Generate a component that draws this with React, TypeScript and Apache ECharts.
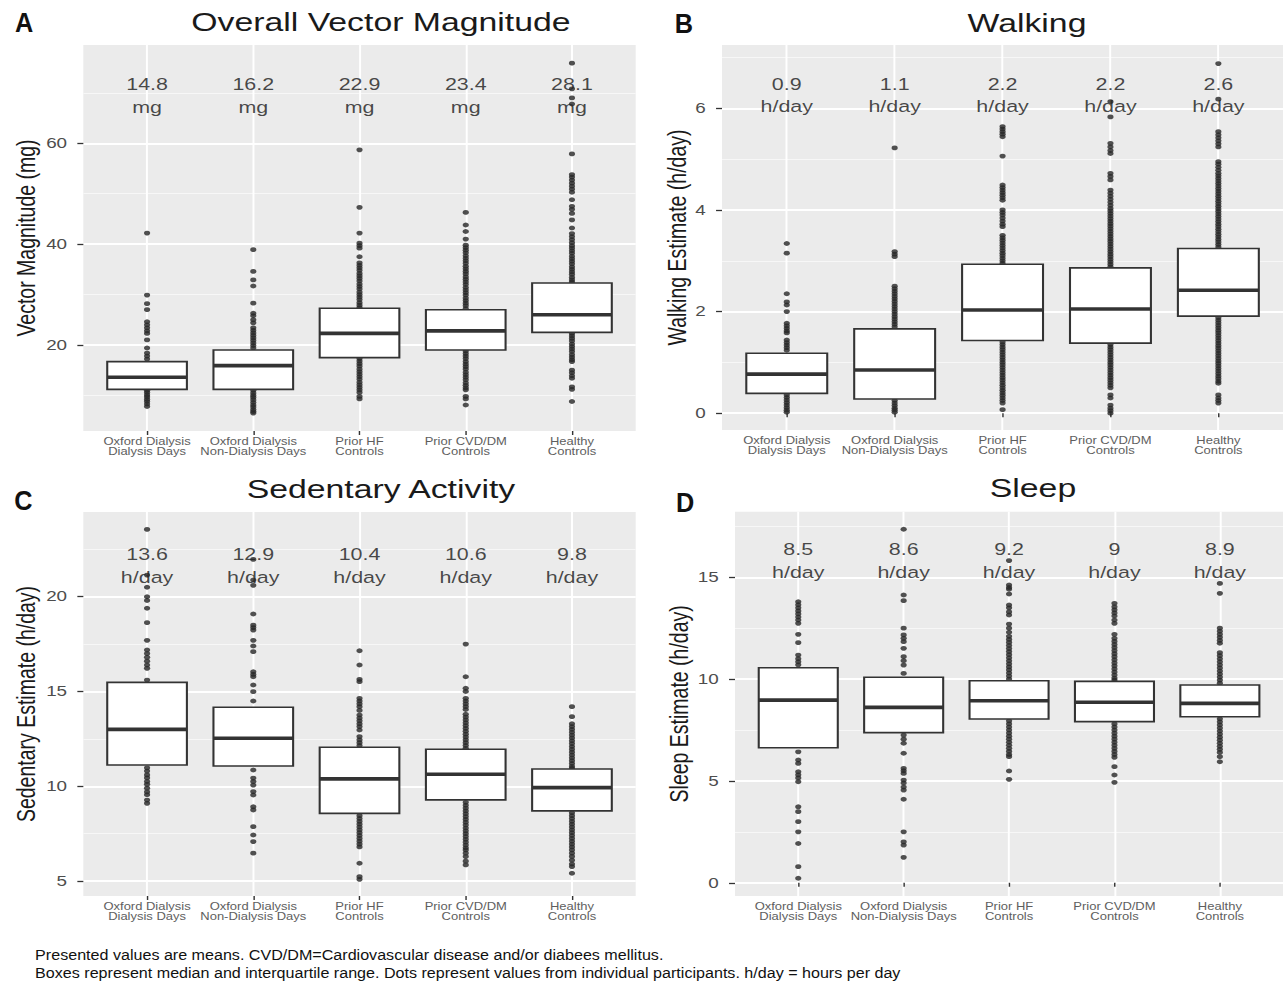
import React, { useEffect, useRef } from "react";
import * as echarts from "echarts";

// ---------- shared categories ----------
const categories = [
  "Oxford Dialysis\nDialysis Days",
  "Oxford Dialysis\nNon-Dialysis Days",
  "Prior HF\nControls",
  "Prior CVD/DM\nControls",
  "Healthy\nControls",
];

// ---------- Panel A: Overall Vector Magnitude (mg) ----------
// boxes: [Q1, median, Q3]
const vmBoxes = [
  [11.2, 13.6, 16.7],
  [11.2, 15.9, 19.0],
  [17.5, 22.3, 27.3],
  [19.0, 22.8, 27.0],
  [22.5, 26.0, 32.3],
];
const vmMeans = ["14.8", "16.2", "22.9", "23.4", "28.1"];
const vmDots = [
  [42.2, 29.9, 28.2, 27.0, 24.6, 24.0, 23.4, 22.8, 22.3, 21.0, 19.4, 18.4, 17.8, 17.2,
    11.0, 10.6, 10.1, 9.7, 9.2, 8.8, 8.3, 7.8],
  [38.9, 34.6, 32.9, 31.7, 28.3, 26.3, 25.8, 25.0, 24.4, 23.4, 22.9, 22.4, 21.9, 21.4, 20.9, 20.4, 19.9, 19.4,
    11.0, 10.5, 10.0, 9.6, 9.1, 8.6, 8.1, 7.7, 7.2, 6.8, 6.5],
  [58.7, 47.3, 42.2, 40.2, 39.7, 39.2, 37.5, 36.3, 35.8, 35.3, 34.8, 34.2, 33.7, 33.2, 32.7, 32.1, 31.6, 31.1, 30.5,
    30.0, 29.5, 29.0, 28.4, 27.9, 27.4,
    17.3, 16.8, 16.3, 15.8, 15.2, 14.7, 14.2, 13.7, 13.2, 12.6, 12.1, 11.6, 11.1, 10.6, 9.8, 9.3],
  [46.3, 43.8, 42.5, 41.0, 39.8, 39.3, 38.8, 38.3, 37.7, 37.2, 36.7, 36.2, 35.6, 35.1, 34.6, 34.1, 33.5, 33.0, 32.5,
    32.0, 31.4, 30.9, 30.4, 29.9, 29.3, 28.8, 28.3, 27.8, 27.2,
    18.8, 18.3, 17.8, 17.3, 16.7, 16.2, 15.7, 15.2, 14.6, 14.1, 13.6, 13.1, 12.5, 12.0, 11.5, 11.1, 9.8, 9.3, 8.1],
  [75.9, 70.8, 69.0, 67.8, 57.9, 53.8, 53.3, 52.7, 52.1, 51.5, 50.9, 50.3, 48.8, 47.5, 46.9, 46.1, 44.8, 43.2, 42.1,
    41.5, 40.9, 40.3, 39.7, 39.2, 38.7, 38.2, 37.6, 37.1, 36.6, 36.1, 35.5, 35.0, 34.5, 34.0, 33.4, 32.9, 32.5,
    22.3, 21.8, 21.3, 20.8, 20.2, 19.7, 19.2, 18.7, 18.1, 17.6, 17.1, 16.7, 15.0, 14.5, 13.9, 13.4, 11.7, 11.2, 8.8],
];
const vmMajorTicks = [20, 40, 60];
const vmMinorTicks = [10, 30, 50, 70];
const vmLabelY = 69.4;

// ---------- Panel B: Walking (h/day) ----------
const walkBoxes = [
  [0.39, 0.77, 1.18],
  [0.28, 0.85, 1.66],
  [1.43, 2.03, 2.93],
  [1.38, 2.05, 2.86],
  [1.91, 2.42, 3.24],
];
const walkMeans = ["0.9", "1.1", "2.2", "2.2", "2.6"];
const walkDots = [
  [3.34, 3.15, 2.35, 2.19, 2.13, 2.0, 1.77, 1.72, 1.67, 1.62, 1.58, 1.44, 1.39, 1.34, 1.29, 1.24,
    0.36, 0.31, 0.26, 0.21, 0.16, 0.11, 0.06, 0.02],
  [5.22, 3.18, 3.13, 3.08, 2.5, 2.45, 2.4, 2.35, 2.3, 2.25, 2.2, 2.15, 2.1, 2.05, 2.0, 1.95, 1.9, 1.85, 1.8, 1.75, 1.7,
    0.25, 0.2, 0.15, 0.1, 0.06, 0.02],
  [5.64, 5.59, 5.54, 5.49, 5.44, 5.06, 4.49, 4.44, 4.39, 4.34, 4.29, 4.24, 4.19, 4.0, 3.95, 3.9, 3.84, 3.78, 3.72,
    3.67, 3.5, 3.45, 3.4, 3.35, 3.3, 3.25, 3.2, 3.15, 3.1, 3.05, 3.0, 2.95,
    1.4, 1.35, 1.3, 1.25, 1.2, 1.15, 1.1, 1.05, 1.0, 0.95, 0.9, 0.85, 0.8, 0.75, 0.7, 0.65, 0.6, 0.55, 0.5, 0.45,
    0.4, 0.35, 0.3, 0.25, 0.2, 0.07],
  [6.13, 5.83, 5.31, 5.24, 5.17, 5.11, 4.72, 4.66, 4.59, 4.39, 4.33, 4.27, 4.21, 4.15, 4.09, 4.03, 3.98, 3.93, 3.88,
    3.83, 3.78, 3.73, 3.68, 3.63, 3.58, 3.53, 3.48, 3.43, 3.38, 3.33, 3.28, 3.23, 3.18, 3.13, 3.08, 3.03, 2.98, 2.93,
    2.88,
    1.35, 1.3, 1.25, 1.2, 1.15, 1.1, 1.05, 1.0, 0.95, 0.9, 0.85, 0.8, 0.75, 0.7, 0.65, 0.6, 0.55, 0.5, 0.36, 0.3,
    0.16, 0.1, 0.05, 0.0],
  [6.88, 6.18, 5.54, 5.48, 5.42, 5.36, 5.3, 5.24, 4.95, 4.9, 4.84, 4.78, 4.72, 4.67, 4.62, 4.57, 4.52, 4.47, 4.42,
    4.37, 4.32, 4.27, 4.22, 4.17, 4.12, 4.07, 4.02, 3.97, 3.92, 3.87, 3.82, 3.77, 3.72, 3.67, 3.62, 3.57, 3.52, 3.47,
    3.42, 3.37, 3.32, 3.27,
    1.88, 1.83, 1.78, 1.73, 1.68, 1.63, 1.58, 1.53, 1.48, 1.43, 1.38, 1.33, 1.28, 1.23, 1.18, 1.13, 1.08, 1.03, 0.98,
    0.93, 0.88, 0.83, 0.78, 0.73, 0.68, 0.63, 0.59, 0.36, 0.3, 0.25, 0.2],
];
const walkMajorTicks = [0, 2, 4, 6];
const walkMinorTicks = [1, 3, 5, 7];
const walkLabelY = 6.25;

// ---------- Panel C: Sedentary Activity (h/day) ----------
const sedBoxes = [
  [11.12, 13.0, 15.48],
  [11.07, 12.53, 14.17],
  [8.57, 10.39, 12.06],
  [9.28, 10.63, 11.95],
  [8.7, 9.93, 10.91],
];
const sedMeans = ["13.6", "12.9", "10.4", "10.6", "9.8"];
const sedDots = [
  [23.55, 21.14, 20.5, 20.0, 19.8, 19.39, 18.63, 17.7, 17.19, 17.0, 16.8, 16.6, 16.4, 16.22, 15.6,
    10.97, 10.8, 10.6, 10.44, 10.25, 10.1, 9.9, 9.7, 9.55, 9.27, 9.1],
  [21.97, 20.88, 20.6, 19.09, 18.5, 18.37, 18.24, 17.7, 17.4, 17.1, 16.04, 15.9, 15.78, 15.34, 14.99, 14.5,
    10.86, 10.43, 10.25, 10.06, 9.72, 9.54, 8.92, 8.75, 7.87, 7.43, 7.08, 6.47],
  [17.15, 16.4, 15.64, 15.52, 14.64, 14.5, 14.35, 14.2, 14.0, 13.76, 13.6, 13.45, 13.3, 13.15, 12.97, 12.62, 12.45,
    12.3, 12.15,
    8.45, 8.3, 8.15, 8.0, 7.85, 7.7, 7.55, 7.4, 7.25, 7.1, 6.95, 6.8, 5.94, 5.23, 5.09],
  [17.5, 15.78, 15.17, 15.0, 14.64, 14.5, 14.35, 14.2, 14.05, 13.8, 13.65, 13.5, 13.35, 13.2, 13.05, 12.9, 12.75,
    12.6, 12.45, 12.3, 12.15, 12.0,
    9.15, 9.0, 8.85, 8.7, 8.55, 8.4, 8.25, 8.1, 7.95, 7.8, 7.65, 7.5, 7.35, 7.2, 7.05, 6.9, 6.75, 6.64, 6.47, 6.29,
    6.05, 5.85],
  [14.2, 13.67, 13.3, 13.15, 13.0, 12.85, 12.7, 12.55, 12.4, 12.25, 12.1, 11.95, 11.8, 11.65, 11.5, 11.35, 11.2,
    11.05, 10.95,
    8.6, 8.45, 8.3, 8.15, 8.0, 7.85, 7.7, 7.55, 7.4, 7.25, 7.1, 6.95, 6.8, 6.64, 6.47, 6.3, 6.1, 5.9, 5.76, 5.41],
];
const sedMajorTicks = [5, 10, 15, 20];
const sedMinorTicks = [7.5, 12.5, 17.5, 22.5];
const sedLabelY = 21.63;

// ---------- Panel D: Sleep (h/day) ----------
const sleepBoxes = [
  [6.63, 8.97, 10.56],
  [7.37, 8.61, 10.09],
  [8.04, 8.94, 9.92],
  [7.91, 8.86, 9.89],
  [8.15, 8.81, 9.71],
];
const sleepMeans = ["8.5", "8.6", "9.2", "9", "8.9"];
const sleepDots = [
  [13.8, 13.65, 13.5, 13.35, 13.2, 13.05, 12.9, 12.74, 12.2, 11.79, 11.18, 11.0, 10.85, 10.7,
    6.43, 6.03, 5.86, 5.45, 5.3, 5.15, 4.96, 3.73, 3.49, 3.0, 2.5, 1.93, 0.79, 0.22],
  [17.36, 14.13, 13.85, 12.5, 12.17, 12.0, 11.84, 11.51, 11.1, 10.9, 10.69, 10.28,
    7.25, 7.05, 6.85, 6.36, 5.62, 5.5, 5.37, 5.04, 4.9, 4.7, 4.55, 4.1, 2.5, 2.01, 1.85, 1.25],
  [15.82, 14.62, 14.5, 14.41, 14.18, 13.64, 13.5, 13.3, 13.15, 12.7, 12.5, 12.3, 12.1, 11.95, 11.8, 11.65, 11.5,
    11.35, 11.2, 11.05, 10.9, 10.75, 10.6, 10.45, 10.3, 10.15, 10.0,
    7.95, 7.8, 7.65, 7.5, 7.35, 7.2, 7.05, 6.9, 6.75, 6.6, 6.45, 6.3, 6.19, 5.49, 5.08],
  [13.72, 13.55, 13.4, 13.25, 13.1, 12.9, 12.74, 12.2, 12.0, 11.85, 11.7, 11.55, 11.4, 11.25, 11.1, 10.95, 10.8,
    10.65, 10.5, 10.35, 10.2, 10.05, 9.95,
    7.8, 7.65, 7.5, 7.35, 7.2, 7.05, 6.9, 6.75, 6.6, 6.45, 6.3, 6.16, 5.7, 5.29, 4.93],
  [14.7, 14.21, 12.5, 12.35, 12.2, 12.05, 11.9, 11.76, 11.3, 11.15, 11.0, 10.85, 10.7, 10.55, 10.4, 10.25, 10.1,
    9.95, 9.8,
    8.05, 7.9, 7.75, 7.6, 7.45, 7.3, 7.15, 7.0, 6.85, 6.7, 6.55, 6.4, 6.19, 5.94],
];
const sleepMajorTicks = [0, 5, 10, 15];
const sleepMinorTicks = [2.5, 7.5, 12.5, 17.5];
const sleepLabelY = 15.8;

const footnote =
  "Presented values are means. CVD/DM=Cardiovascular disease and/or diabees mellitus.\n" +
  "Boxes represent median and interquartile range. Dots represent values from individual participants. h/day = hours per day";

// ---------- layout (unstretched coordinates; the whole chart is stretched horizontally) ----------
const STRETCH = 1.3;
const FONT = "'Liberation Sans', Arial, Helvetica, sans-serif";

const panels = [
  {
    letter: "A", title: "Overall Vector Magnitude", yName: "Vector Magnitude (mg)", unit: "mg",
    boxes: vmBoxes, means: vmMeans, dots: vmDots, major: vmMajorTicks, minor: vmMinorTicks, labelY: vmLabelY,
    ymin: 2.94, ymax: 79.5,
    grid: { left: 64.1, top: 45, width: 424.9, height: 386 }, nameGap: 34,
    titlePos: [293, 22], letterPos: [18.5, 23],
  },
  {
    letter: "B", title: "Walking", yName: "Walking Estimate (h/day)", unit: "h/day",
    boxes: walkBoxes, means: walkMeans, dots: walkDots, major: walkMajorTicks, minor: walkMinorTicks, labelY: walkLabelY,
    ymin: -0.33, ymax: 7.245,
    grid: { left: 555.4, top: 45, width: 434.6, height: 385 }, nameGap: 22,
    titlePos: [790, 23], letterPos: [526, 24],
  },
  {
    letter: "C", title: "Sedentary Activity", yName: "Sedentary Estimate (h/day)", unit: "h/day",
    boxes: sedBoxes, means: sedMeans, dots: sedDots, major: sedMajorTicks, minor: sedMinorTicks, labelY: sedLabelY,
    ymin: 4.21, ymax: 24.47,
    grid: { left: 64.1, top: 512, width: 424.9, height: 384 }, nameGap: 34,
    titlePos: [293, 489], letterPos: [18, 501],
  },
  {
    letter: "D", title: "Sleep", yName: "Sleep Estimate (h/day)", unit: "h/day",
    boxes: sleepBoxes, means: sleepMeans, dots: sleepDots, major: sleepMajorTicks, minor: sleepMinorTicks, labelY: sleepLabelY,
    ymin: -0.65, ymax: 18.22,
    grid: { left: 565.4, top: 511.7, width: 423.8, height: 384.3 }, nameGap: 32,
    titlePos: [794.6, 488], letterPos: [527, 503],
  },
];

function buildOption() {
  const grids: any[] = [];
  const xAxes: any[] = [];
  const yAxes: any[] = [];
  const series: any[] = [];
  const graphics: any[] = [];
  const catValues = categories.map((_, i) => i + 1);

  panels.forEach((p, i) => {
    grids.push({
      ...p.grid,
      show: true,
      backgroundColor: "#ebebeb",
      borderWidth: 0,
      containLabel: false,
    });
    xAxes.push({
      type: "value",
      gridIndex: i,
      min: 0.4,
      max: 5.6,
      axisLine: { show: false },
      axisTick: { show: true, customValues: catValues, length: 4, lineStyle: { color: "#333", width: 1.1 } },
      axisLabel: {
        show: true,
        customValues: catValues,
        formatter: (v: number) => categories[Math.round(v) - 1] ?? "",
        fontFamily: FONT,
        fontSize: 10,
        lineHeight: 10,
        color: "#5e5e5e",
        margin: 6,
      },
      splitLine: { show: true, lineStyle: { color: "#ffffff", width: 1.5 } },
    });
    yAxes.push({
      type: "value",
      gridIndex: i,
      min: p.ymin,
      max: p.ymax,
      name: p.yName,
      nameLocation: "middle",
      nameRotate: 90,
      nameGap: p.nameGap,
      nameTextStyle: { fontFamily: FONT, fontSize: 19.5, color: "#1a1a1a" },
      axisLine: { show: false },
      axisTick: { show: true, customValues: p.major, length: 4.6, lineStyle: { color: "#333", width: 1.3 } },
      axisLabel: {
        show: true,
        customValues: p.major,
        fontFamily: FONT,
        fontSize: 14.5,
        color: "#4d4d4d",
        margin: 12.5,
      },
      splitLine: { show: true, lineStyle: { color: "#ffffff", width: 2 } },
    });
    yAxes.push({
      type: "value",
      gridIndex: i,
      position: "left",
      min: p.ymin,
      max: p.ymax,
      axisLine: { show: false },
      axisTick: { show: false, customValues: p.minor },
      axisLabel: { show: false, customValues: p.minor },
      splitLine: { show: true, lineStyle: { color: "#f7f7f7", width: 1 } },
    });

    const dotData: number[][] = [];
    p.dots.forEach((vals, ci) => vals.forEach((v) => dotData.push([ci + 1, v])));

    series.push({
      type: "scatter",
      xAxisIndex: i,
      yAxisIndex: 2 * i,
      silent: true,
      symbol: "circle",
      symbolSize: 4.8,
      itemStyle: { color: "#262626" },
      data: dotData,
      z: 3,
    });

    series.push({
      type: "custom",
      xAxisIndex: i,
      yAxisIndex: 2 * i,
      silent: true,
      z: 4,
      data: p.boxes.map((b, ci) => [ci + 1, b[0], b[1], b[2]]),
      renderItem: (_params: any, api: any) => {
        const x = api.value(0);
        const q1 = api.value(1);
        const med = api.value(2);
        const q3 = api.value(3);
        const half = 0.375;
        const tl = api.coord([x - half, q3]);
        const br = api.coord([x + half, q1]);
        const ml = api.coord([x - half, med]);
        const mr = api.coord([x + half, med]);
        return {
          type: "group",
          children: [
            {
              type: "rect",
              shape: { x: tl[0], y: tl[1], width: br[0] - tl[0], height: br[1] - tl[1] },
              style: { fill: "#ffffff", stroke: "#333333", lineWidth: 1.6 },
            },
            {
              type: "line",
              shape: { x1: ml[0], y1: ml[1], x2: mr[0], y2: mr[1] },
              style: { stroke: "#333333", lineWidth: 3.6 },
            },
          ],
        };
      },
    });

    series.push({
      type: "scatter",
      xAxisIndex: i,
      yAxisIndex: 2 * i,
      silent: true,
      symbol: "circle",
      symbolSize: 1,
      itemStyle: { color: "rgba(0,0,0,0)" },
      z: 2,
      data: p.means.map((m, ci) => [ci + 1, p.labelY, m]),
      label: {
        show: true,
        position: "inside",
        formatter: (d: any) => `${d.data[2]}\n${p.unit}`,
        fontFamily: FONT,
        fontSize: 16.5,
        lineHeight: 22.5,
        color: "#1a1a1a",
        align: "center",
        verticalAlign: "middle",
      },
    });

    graphics.push({
      type: "text",
      x: p.titlePos[0],
      y: p.titlePos[1],
      silent: true,
      style: {
        text: p.title,
        font: `26px ${FONT}`,
        fill: "#1a1a1a",
        textAlign: "center",
        align: "center",
        textVerticalAlign: "middle",
        verticalAlign: "middle",
      },
    });
    graphics.push({
      type: "text",
      x: p.letterPos[0],
      y: p.letterPos[1],
      scaleX: 0.72,
      silent: true,
      style: {
        text: p.letter,
        font: `bold 27px ${FONT}`,
        fill: "#111111",
        textAlign: "center",
        align: "center",
        textVerticalAlign: "middle",
        verticalAlign: "middle",
      },
    });
  });

  graphics.push({
    type: "text",
    x: 27,
    y: 946,
    scaleX: 0.826,
    silent: true,
    style: {
      text: footnote,
      font: `15px ${FONT}`,
      lineHeight: 18,
      fill: "#111111",
      textAlign: "left",
      align: "left",
      textVerticalAlign: "top",
      verticalAlign: "top",
    },
  });

  return {
    animation: false,
    backgroundColor: "#ffffff",
    grid: grids,
    xAxis: xAxes,
    yAxis: yAxes,
    series,
    graphic: graphics,
  };
}

export default function App() {
  const ref = useRef<HTMLDivElement>(null);
  useEffect(() => {
    if (!ref.current) return;
    const chart = echarts.init(ref.current, null, { renderer: "svg" });
    chart.setOption(buildOption() as any);
    return () => chart.dispose();
  }, []);
  const baseWidth = Math.round(1283 / STRETCH);
  return (
    <div style={{ position: "absolute", left: 0, top: 0, width: 1283, height: 982, overflow: "hidden", background: "#fff" }}>
      <div
        ref={ref}
        style={{
          width: baseWidth,
          height: 982,
          transform: `scaleX(${STRETCH})`,
          transformOrigin: "0 0",
        }}
      />
    </div>
  );
}
